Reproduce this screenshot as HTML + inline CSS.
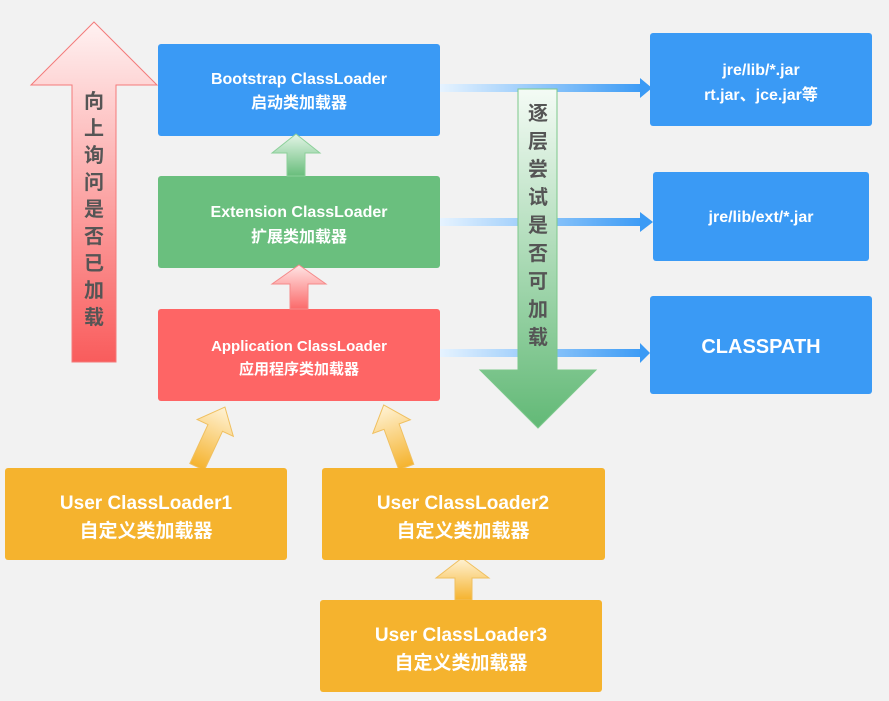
<!DOCTYPE html>
<html><head><meta charset="utf-8"><style>
html,body{margin:0;padding:0;background:#f2f2f2;}
svg{display:block;}
text{font-family:"Liberation Sans","Noto Sans CJK SC",sans-serif;fill:#fff;text-anchor:middle;}
</style></head><body>
<svg width="889" height="701" viewBox="0 0 889 701" xmlns="http://www.w3.org/2000/svg">
<defs>
<linearGradient id="gr" x1="0" y1="0" x2="0" y2="1"><stop offset="0" stop-color="#fff2f2"/><stop offset="1" stop-color="#f95c5c"/></linearGradient>
<linearGradient id="gg" x1="0" y1="0" x2="0" y2="1"><stop offset="0" stop-color="#f4fbf5"/><stop offset="1" stop-color="#62b976"/></linearGradient>
<linearGradient id="gs" x1="0" y1="0" x2="0" y2="1"><stop offset="0" stop-color="#e4f5e7"/><stop offset="1" stop-color="#68bd7b"/></linearGradient>
<linearGradient id="gsr" x1="0" y1="0" x2="0" y2="1"><stop offset="0" stop-color="#ffe5e5"/><stop offset="1" stop-color="#fb6a6a"/></linearGradient>
<linearGradient id="go" x1="0" y1="0" x2="0" y2="1"><stop offset="0" stop-color="#fff3d6"/><stop offset="1" stop-color="#f5b32e"/></linearGradient>
<linearGradient id="gl" x1="0" y1="0" x2="1" y2="0"><stop offset="0" stop-color="#e6f3ff"/><stop offset="1" stop-color="#3a9af5"/></linearGradient>
</defs>

<!-- left up arrow -->
<polygon points="94,22 157,85 116,85 116,362 72,362 72,85 31,85" fill="url(#gr)" stroke="#f47a7a" stroke-width="1"/>
<g font-size="20" font-weight="bold" style="fill:#555"><text x="94" y="108" style="fill:#555">向</text><text x="94" y="135" style="fill:#555">上</text><text x="94" y="162" style="fill:#555">询</text><text x="94" y="189" style="fill:#555">问</text><text x="94" y="216" style="fill:#555">是</text><text x="94" y="243" style="fill:#555">否</text><text x="94" y="270" style="fill:#555">已</text><text x="94" y="297" style="fill:#555">加</text><text x="94" y="324" style="fill:#555">载</text></g>

<!-- connectors -->
<g>
<rect x="440" y="84" width="205" height="8" fill="url(#gl)"/>
<polygon points="640,78 652,88 640,98" fill="#3a9af5"/>
<rect x="440" y="218" width="205" height="8" fill="url(#gl)"/>
<polygon points="640,212 653,222 640,232" fill="#3a9af5"/>
<rect x="440" y="349" width="205" height="8" fill="url(#gl)"/>
<polygon points="640,343 650,353 640,363" fill="#3a9af5"/>
</g>

<!-- green down arrow -->
<polygon points="518,89 557,89 557,370 596,370 538,428 480,370 518,370" fill="url(#gg)" stroke="#7cc88b" stroke-width="1"/>
<g font-size="20" font-weight="bold"><text x="538" y="120" style="fill:#555">逐</text><text x="538" y="148" style="fill:#555">层</text><text x="538" y="176" style="fill:#555">尝</text><text x="538" y="204" style="fill:#555">试</text><text x="538" y="232" style="fill:#555">是</text><text x="538" y="260" style="fill:#555">否</text><text x="538" y="288" style="fill:#555">可</text><text x="538" y="316" style="fill:#555">加</text><text x="538" y="344" style="fill:#555">载</text></g>

<!-- main boxes -->
<rect x="158" y="44" width="282" height="92" rx="3" fill="#3a9af5"/>
<text x="299" y="84" font-size="16" font-weight="bold">Bootstrap ClassLoader</text>
<text x="299" y="108" font-size="16" font-weight="bold">启动类加载器</text>
<rect x="158" y="176" width="282" height="92" rx="3" fill="#6abf7e"/>
<text x="299" y="217" font-size="16" font-weight="bold">Extension ClassLoader</text>
<text x="299" y="242" font-size="16" font-weight="bold">扩展类加载器</text>
<rect x="158" y="309" width="282" height="92" rx="3" fill="#fe6565"/>
<text x="299" y="351" font-size="15" font-weight="bold">Application ClassLoader</text>
<text x="299" y="374" font-size="15" font-weight="bold">应用程序类加载器</text>

<!-- small arrows -->
<polygon points="296,134 320,153 305,153 305,176 287,176 287,153 272,153" fill="url(#gs)" stroke="#8cd09a" stroke-width="1"/>
<polygon points="299,265 326,284 308,284 308,309 290,309 290,284 272,284" fill="url(#gsr)" stroke="#f58a8a" stroke-width="1"/>

<!-- right boxes -->
<rect x="650" y="33" width="222" height="93" rx="3" fill="#3a9af5"/>
<text x="761" y="75" font-size="16" font-weight="bold">jre/lib/*.jar</text>
<text x="761" y="100" font-size="16" font-weight="bold">rt.jar、jce.jar等</text>
<rect x="653" y="172" width="216" height="89" rx="3" fill="#3a9af5"/>
<text x="761" y="222" font-size="16" font-weight="bold">jre/lib/ext/*.jar</text>
<rect x="650" y="296" width="222" height="98" rx="3" fill="#3a9af5"/>
<text x="761" y="353" font-size="20" font-weight="bold">CLASSPATH</text>

<!-- user arrows -->
<g transform="translate(211,437) rotate(25)">
<polygon points="0,-33 20,-10 8,-10 8,33 -8,33 -8,-10 -20,-10" fill="url(#go)" stroke="#f0c060" stroke-width="1"/>
</g>
<g transform="translate(395,436) rotate(-20)">
<polygon points="0,-33 20,-10 8,-10 8,33 -8,33 -8,-10 -20,-10" fill="url(#go)" stroke="#f0c060" stroke-width="1"/>
</g>
<polygon points="462,558 489,578 472,578 472,600 455,600 455,578 436,578" fill="url(#go)" stroke="#f0c060" stroke-width="1"/>

<!-- user boxes -->
<rect x="5" y="468" width="282" height="92" rx="3" fill="#f5b32e"/>
<text x="146" y="509" font-size="19" font-weight="bold">User ClassLoader1</text>
<text x="146" y="537" font-size="19" font-weight="bold">自定义类加载器</text>
<rect x="322" y="468" width="283" height="92" rx="3" fill="#f5b32e"/>
<text x="463" y="509" font-size="19" font-weight="bold">User ClassLoader2</text>
<text x="463" y="537" font-size="19" font-weight="bold">自定义类加载器</text>
<rect x="320" y="600" width="282" height="92" rx="3" fill="#f5b32e"/>
<text x="461" y="641" font-size="19" font-weight="bold">User ClassLoader3</text>
<text x="461" y="669" font-size="19" font-weight="bold">自定义类加载器</text>
</svg>
</body></html>
